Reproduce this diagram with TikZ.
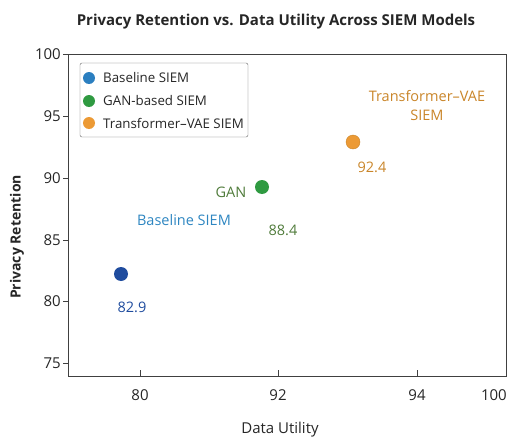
\documentclass[tikz,border=0pt]{standalone}
\usepackage{fontspec}
\setmainfont{Open Sans}
\begin{document}
\begin{tikzpicture}[x=1pt,y=-1pt,
  lbl/.style={font=\fontsize{14.5}{16}\selectfont, inner sep=0pt},
  tick/.style={font=\fontsize{15}{16}\selectfont, inner sep=0pt, text=black!85},
  dot/.style={circle, inner sep=0pt, minimum size=14pt},
  legdot/.style={circle, inner sep=0pt, minimum size=12pt},
  legtxt/.style={font=\fontsize{13.3}{15}\selectfont, inner sep=0pt, anchor=west, text=black!85}]
\definecolor{cblue}{HTML}{2B7FC0}
\definecolor{cgreen}{HTML}{2F9A41}
\definecolor{corange}{HTML}{EC9A35}
\definecolor{dblue}{HTML}{1F4C9E}
\definecolor{tblue}{HTML}{2E86C1}
\definecolor{tgreen}{HTML}{4F7B3A}
\definecolor{torange}{HTML}{C98529}
\useasboundingbox (0,0) rectangle (507,442);
% title
\node[font=\fontsize{15}{18}\selectfont\bfseries, text=black!85] (title) at (276,22) {Privacy Retention vs. Data Utility Across SIEM Models};
% frame
\draw[black!75, line width=0.8pt] (68,54) rectangle (506,376);
% y ticks
\foreach \v/\yy in {100/54,95/116,90/178,85/240,80/301,75/363}{
  \draw[black!75] (63,\yy) -- (68,\yy);
  \node[tick, anchor=east] at (61,\yy) {\v};
}
% x ticks
\foreach \v/\xx in {80/140,92/278,94/417}{
  \draw[black!75] (\xx,376) -- (\xx,370);
  \node[tick] at (\xx,395) {\v};
}
\node[tick, anchor=east] at (507,395) {100};
% axis labels
\node[font=\fontsize{15}{16}\selectfont, text=black!85] (xlab) at (280,430) {Data Utility};
\node[font=\fontsize{14}{16}\selectfont\bfseries, text=black!85, rotate=90] (ylab) at (17,237) {Privacy Retention};
% legend
\draw[black!60, rounded corners=2pt, fill=white] (80,63) rectangle (248,137);
\node[legdot, fill=cblue] (l1) at (89,78) {};
\node[legdot, fill=cgreen] (l2) at (89,101) {};
\node[legdot, fill=corange] (l3) at (89,123) {};
\node[legtxt] (t1) at (103,78) {Baseline SIEM};
\node[legtxt] (t2) at (103,101) {GAN-based SIEM};
\node[legtxt] (t3) at (103,123) {Transformer–VAE SIEM};
% points
\node[dot, fill=dblue] (pb) at (121,274) {};
\node[dot, fill=cgreen] (pg) at (262,187) {};
\node[dot, fill=corange, draw=torange, line width=0.4pt] (po) at (353,142) {};
% labels
\node[lbl, text=dblue] (vb) at (132,307) {82.9};
\node[lbl, text=tblue] (nb) at (184,220) {Baseline SIEM};
\node[lbl, text=tgreen] (ng) at (231,192) {GAN};
\node[lbl, text=tgreen] (vg) at (283,230) {88.4};
\node[lbl, text=torange] (vo) at (372,167) {92.4};
\node[lbl, text=torange, align=center] (no) at (427,106) {Transformer–VAE\\[3pt]SIEM};
\end{tikzpicture}
\end{document}
